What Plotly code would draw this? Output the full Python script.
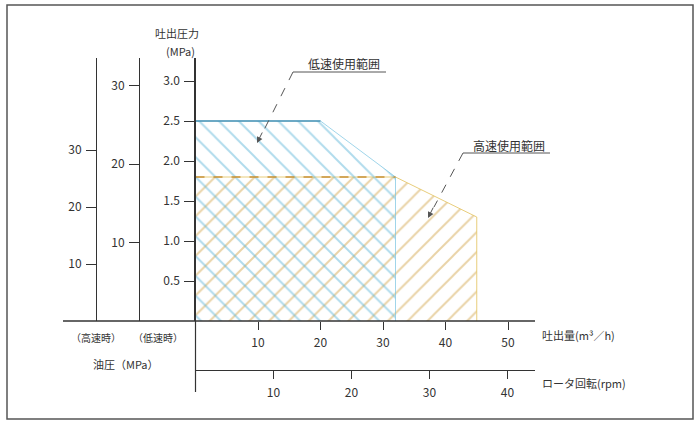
import plotly.graph_objects as go

W, H = 697, 421

# ---- data ----
low_flow = [0, 0, 20, 32, 32]          # 低速使用範囲 outline, 吐出量 (m3/h)
low_pres = [0, 2.5, 2.5, 1.8, 0]       # 吐出圧力 (MPa)
high_flow = [0, 0, 32, 45, 45]         # 高速使用範囲 outline
high_pres = [0, 1.8, 1.8, 1.3, 0]

y_ticks = [0.5, 1.0, 1.5, 2.0, 2.5, 3.0]
y_tick_text = ["0.5", "1.0", "1.5", "2.0", "2.5", "3.0"]
flow_ticks = [10, 20, 30, 40, 50]
rpm_ticks = [10, 20, 30, 40]
oil_high_ticks = [10, 20, 30]
oil_low_ticks = [10, 20, 30]

FONT = "Noto Sans CJK JP"
TXT = "#333333"
AX = "#333333"


def PX(x):
    return x / W


def PY(y):
    return 1 - y / H


fig = go.Figure()

# high speed range (orange hatch, "/")
fig.add_trace(go.Scatter(
    x=high_flow, y=high_pres, fill="toself", mode="lines",
    line=dict(color="rgba(228,196,100,0.85)", width=1),
    fillcolor="rgba(0,0,0,0)",
    fillpattern=dict(shape="/", fgcolor="#d4a850", bgcolor="rgba(0,0,0,0)",
                     size=14, solidity=0.14, fillmode="overlay"),
    hoverinfo="skip", showlegend=False))

# low speed range (blue hatch, "\")
fig.add_trace(go.Scatter(
    x=low_flow, y=low_pres, fill="toself", mode="lines",
    line=dict(color="rgba(120,195,225,0.7)", width=1),
    fillcolor="rgba(0,0,0,0)",
    fillpattern=dict(shape="\\", fgcolor="#62b8da", bgcolor="rgba(0,0,0,0)",
                     size=14, solidity=0.14, fillmode="overlay"),
    hoverinfo="skip", showlegend=False))

# boundary lines at the top of each range
fig.add_trace(go.Scatter(x=low_flow[1:3], y=low_pres[1:3], mode="lines",
                         line=dict(color="#4b93b5", width=1.5),
                         hoverinfo="skip", showlegend=False))
fig.add_trace(go.Scatter(x=high_flow[1:3], y=high_pres[1:3], mode="lines",
                         line=dict(color="#c8923a", width=1.5, dash="dash"),
                         hoverinfo="skip", showlegend=False))

# empty traces to bind the extra axes
fig.add_trace(go.Scatter(x=[], y=[], xaxis="x2", yaxis="y2", showlegend=False, hoverinfo="skip"))
fig.add_trace(go.Scatter(x=[], y=[], xaxis="x", yaxis="y3", showlegend=False, hoverinfo="skip"))

x0, x1 = 195.5, 535
ybot, ytop = 321, 58

axis_common = dict(showgrid=False, zeroline=False, linecolor=AX, tickcolor=AX,
                   tickfont=dict(family=FONT, size=12, color=TXT), fixedrange=True)

fig.update_layout(
    width=W, height=H,
    margin=dict(l=0, r=0, t=0, b=0),
    paper_bgcolor="white", plot_bgcolor="rgba(0,0,0,0)",
    font=dict(family=FONT, color=TXT),
    xaxis=dict(domain=[PX(x0), PX(x1)], range=[0, (x1 - x0) / 6.25],
               tickvals=flow_ticks, ticks="outside", ticklen=8, tickwidth=1,
               showline=False, ticklabelstandoff=3, anchor="y", **axis_common),
    xaxis2=dict(overlaying="x", anchor="free", position=1 - 370 / H, side="bottom",
                range=[0, (x1 - x0) / 7.8], tickvals=rpm_ticks, ticks="outside",
                ticklen=8, tickwidth=1, showline=True, linewidth=1.2,
                ticklabelstandoff=3, **axis_common),
    yaxis=dict(domain=[1 - ybot / H, 1 - ytop / H], range=[0, (ybot - ytop) / 80],
               tickvals=y_ticks, ticktext=y_tick_text, ticks="outside", ticklen=10,
               tickwidth=1, showline=True, linewidth=1.2, anchor="x",
               ticklabelstandoff=2, **axis_common),
    yaxis2=dict(overlaying="y", anchor="free", position=PX(96), side="left",
                range=[0, (ybot - ytop) / 5.7], tickvals=oil_high_ticks,
                ticks="outside", ticklen=10, tickwidth=1, showline=True,
                linewidth=1.2, ticklabelstandoff=2, **axis_common),
    yaxis3=dict(overlaying="y", anchor="free", position=PX(139), side="left",
                range=[0, (ybot - ytop) / 7.85], tickvals=oil_low_ticks,
                ticks="outside", ticklen=10, tickwidth=1, showline=True,
                linewidth=1.2, ticklabelstandoff=2, **axis_common),
)

shapes = [
    # frame
    dict(type="rect", xref="paper", yref="paper", x0=PX(7), x1=PX(693),
         y0=PY(419), y1=PY(5), line=dict(color="#555555", width=1.5)),
    # base line (flow axis + extension under the oil pressure axes)
    dict(type="line", xref="paper", yref="paper", x0=PX(63), x1=PX(535),
         y0=PY(ybot), y1=PY(ybot), line=dict(color=AX, width=1.5)),
    # vertical extension of the pressure axis below the base line
    dict(type="line", xref="paper", yref="paper", x0=PX(x0), x1=PX(x0),
         y0=PY(ybot), y1=PY(392), line=dict(color=AX, width=1.2)),
    # underlines of the range labels
    dict(type="line", xref="paper", yref="paper", x0=PX(293), x1=PX(386),
         y0=PY(72), y1=PY(72), line=dict(color="#555555", width=1)),
    dict(type="line", xref="paper", yref="paper", x0=PX(463), x1=PX(550),
         y0=PY(153), y1=PY(153), line=dict(color="#555555", width=1)),
    # dashed leader lines
    dict(type="line", xref="paper", yref="paper", x0=PX(293), x1=PX(263),
         y0=PY(72), y1=PY(132), line=dict(color="#555555", width=1, dash="dash")),
    dict(type="line", xref="paper", yref="paper", x0=PX(463), x1=PX(434),
         y0=PY(153), y1=PY(207), line=dict(color="#555555", width=1, dash="dash")),
]
fig.update_layout(shapes=shapes)


def txt(x, y, s, size=12, xanchor="center"):
    return dict(x=PX(x), y=PY(y), xref="paper", yref="paper", text=s,
                showarrow=False, xanchor=xanchor, yanchor="middle",
                font=dict(family=FONT, size=size, color=TXT))


annotations = [
    txt(177, 33, "吐出圧力", 11),
    txt(180, 51, "(MPa)", 11),
    txt(344, 63, "低速使用範囲", 12),
    txt(509, 145, "高速使用範囲", 12),
    txt(96, 337, "（高速時）", 10),
    txt(158, 337, "（低速時）", 10),
    txt(126, 364, "油圧（MPa）", 11),
    txt(540, 335, "吐出量(m³／h)", 11, "left"),
    txt(540, 383, "ロータ回転(rpm)", 11, "left"),
    # arrow heads
    dict(x=PX(257), y=PY(143), xref="paper", yref="paper", text="", showarrow=True,
         ax=6, ay=-12, arrowhead=2, arrowsize=1.2, arrowwidth=1, arrowcolor="#555555"),
    dict(x=PX(428), y=PY(218), xref="paper", yref="paper", text="", showarrow=True,
         ax=6, ay=-12, arrowhead=2, arrowsize=1.2, arrowwidth=1, arrowcolor="#555555"),
]
fig.update_layout(annotations=annotations)

fig.write_html(
    "out.html",
    config={"displayModeBar": False, "staticPlot": True},
    post_script="document.body.style.margin='0';document.body.style.overflow='hidden';",
)
